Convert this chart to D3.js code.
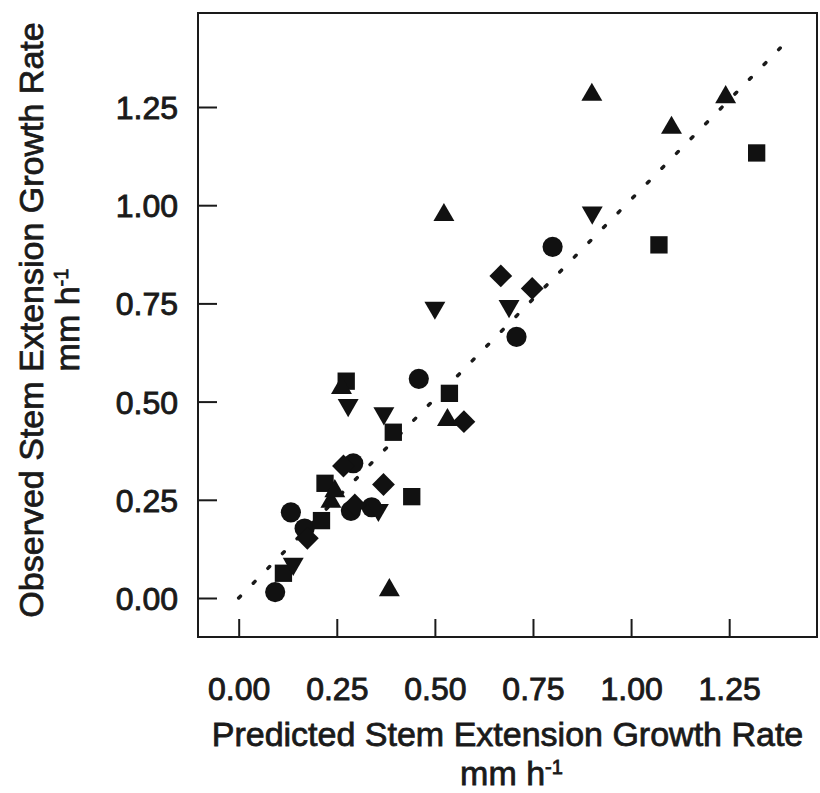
<!DOCTYPE html>
<html>
<head>
<meta charset="utf-8">
<script src="https://cdn.jsdelivr.net/npm/d3@7"></script>
<style>
  body { margin: 0; background: #fff; }
  text { font-family: "Liberation Sans", Arial, sans-serif; fill: #1a1a1a; }
</style>
</head>
<body>
<script>
// observed vs predicted stem extension growth rate (mm h-1)
const circles  = [[0.093,0.015],[0.133,0.218],[0.168,0.177],[0.286,0.222],[0.292,0.343],[0.339,0.231],[0.459,0.558],[0.708,0.665],[0.800,0.894]];
const squares  = [[0.114,0.063],[0.211,0.197],[0.220,0.292],[0.274,0.552],[0.394,0.422],[0.441,0.258],[0.537,0.521],[1.071,0.899],[1.320,1.133]];
const triUp    = [[0.235,0.245],[0.245,0.272],[0.262,0.535],[0.384,0.020],[0.532,0.453],[0.523,0.975],[0.900,1.281],[1.103,1.197],[1.241,1.275]];
const triDown  = [[0.139,0.087],[0.279,0.491],[0.356,0.224],[0.370,0.470],[0.500,0.739],[0.689,0.743],[0.901,0.981]];
const diamonds = [[0.175,0.152],[0.267,0.336],[0.296,0.237],[0.369,0.289],[0.574,0.449],[0.668,0.820],[0.748,0.788]];
const fitLine  = [[0,0],[1.38,1.40]];
const xTicks = [0, 0.25, 0.5, 0.75, 1.0, 1.25];
const yTicks = [0, 0.25, 0.5, 0.75, 1.0, 1.25];

const width = 820;
const height = 793;
const pLeft = 198, pRight = 817, pTop = 13, pBottom = 637;

const svg = d3.select('body')
    .append('svg')
    .attr('width', width)
    .attr('height', height);

const x = d3.scaleLinear().domain([-0.1037, 1.4738]).range([pLeft, pRight]);
const y = d3.scaleLinear().domain([-0.0993, 1.4893]).range([pBottom, pTop]);

// frame
svg.append('rect')
    .attr('x', pLeft).attr('y', pTop)
    .attr('width', pRight - pLeft).attr('height', pBottom - pTop)
    .attr('fill', 'none').attr('stroke', '#1a1a1a').attr('stroke-width', 2);

// inward ticks
const xAxis = svg.append('g')
    .attr('transform', `translate(0,${pBottom})`)
    .call(d3.axisBottom(x).tickValues(xTicks).tickSize(-18).tickPadding(40).tickFormat(d3.format('.2f')));
const yAxis = svg.append('g')
    .attr('transform', `translate(${pLeft},0)`)
    .call(d3.axisLeft(y).tickValues(yTicks).tickSize(-19).tickPadding(20).tickFormat(d3.format('.2f')));

[xAxis, yAxis].forEach(g => {
    g.select('.domain').remove();
    g.selectAll('.tick line').attr('stroke', '#1a1a1a').attr('stroke-width', 2);
    g.selectAll('.tick text')
        .attr('font-size', 32)
        .attr('font-family', '"Liberation Sans", Arial, sans-serif')
        .attr('fill', '#1a1a1a')
        .attr('stroke', '#1a1a1a').attr('stroke-width', 0.9);
});
yAxis.selectAll('.tick text').attr('dy', '0.36em');

// 1:1 dotted line
svg.append('path')
    .datum(fitLine)
    .attr('d', d3.line().x(d => x(d[0])).y(d => y(d[1])))
    .attr('fill', 'none')
    .attr('stroke', '#1a1a1a')
    .attr('stroke-width', 3.5)
    .attr('stroke-linecap', 'round')
    .attr('stroke-dasharray', '2.5 18.3');

// markers
const series = [
    { data: circles,  type: d3.symbolCircle,   size: 320, rot: 0 },
    { data: squares,  type: d3.symbolSquare,   size: 300, rot: 0 },
    { data: triUp,    type: d3.symbolTriangle, size: 190, rot: 0 },
    { data: triDown,  type: d3.symbolTriangle, size: 190, rot: 180 },
    { data: diamonds, type: d3.symbolSquare,   size: 260, rot: 45 }
];

series.forEach(s => {
    svg.append('g')
        .selectAll('path')
        .data(s.data)
        .enter()
        .append('path')
        .attr('d', d3.symbol().type(s.type).size(s.size))
        .attr('transform', d => `translate(${x(d[0])},${y(d[1])}) rotate(${s.rot})`)
        .attr('fill', '#111');
});

// axis titles
svg.append('text')
    .attr('text-anchor', 'middle')
    .attr('font-size', 34)
    .attr('stroke', '#1a1a1a').attr('stroke-width', 0.8)
    .attr('x', (pLeft + pRight) / 2).attr('y', 746)
    .text('Predicted Stem Extension Growth Rate');
const xt2 = svg.append('text')
    .attr('text-anchor', 'middle')
    .attr('font-size', 34)
    .attr('stroke', '#1a1a1a').attr('stroke-width', 0.8)
    .attr('x', (pLeft + pRight) / 2 + 4).attr('y', 785);
xt2.append('tspan').text('mm h');
xt2.append('tspan').attr('dy', -11).attr('font-size', 20).text('-1');

const yt = svg.append('text')
    .attr('text-anchor', 'middle')
    .attr('font-size', 34)
    .attr('stroke', '#1a1a1a').attr('stroke-width', 0.8)
    .attr('transform', `translate(0,320) rotate(-90)`);
yt.append('tspan').attr('x', 0).attr('y', 43).text('Observed Stem Extension Growth Rate');
yt.append('tspan').attr('x', 0).attr('y', 79).text('mm h');
yt.append('tspan').attr('dy', -11).attr('font-size', 20).text('-1');
</script>
</body>
</html>
